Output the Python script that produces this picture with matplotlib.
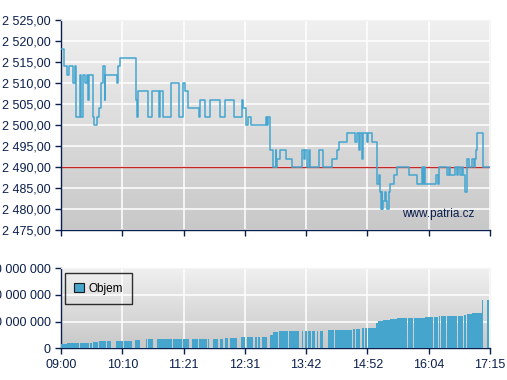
import numpy as np
import matplotlib
matplotlib.use("Agg")
import matplotlib.pyplot as plt
from matplotlib.patches import Rectangle

plt.rcParams['font.family'] = ['Liberation Sans', 'DejaVu Sans']

# minutes since 09:00 and price (step-post)
price_min = [0, 4, 7.5, 8.7, 14.2, 16.2, 17.7, 22.3, 23, 25.7, 27.7, 30.3, 31.5, 32.3,
             37.3, 38.4, 41.5, 43.8, 46.2, 48.5, 50.4, 50.8, 65, 65.8, 68.1, 86.2, 87.3,
             89.2, 100.4, 105.3, 113.4, 114.2, 118, 127.3, 135.6, 141.1, 142.7, 146.9,
             159.6, 160.4, 166.2, 171.9, 183.5, 189.2, 199.6, 208.5, 210.3, 213.5, 215.4,
             218.9, 237.1, 237.7, 238.3, 241.5, 244.6, 247.7, 248.4, 249.2, 252.3, 260,
             266.9, 278.4, 280.7, 281.9, 283.5, 286.5, 287.6, 298, 302.6, 313, 318.8,
             320.8, 330.3, 339.2, 341.2, 344.2, 345, 347.7, 348.5, 352.7, 354.6, 358.5,
             364.3, 365, 366.6, 368.1, 369.2, 370, 370.8, 371.9, 373.8, 375, 376.5,
             378.1, 379.6, 384.2, 388, 401.9, 410.4, 416.9, 418, 419, 420, 432.7, 435,
             436.5, 445.7, 447.3, 448.8, 455, 456.5, 458.4, 460.4, 462.7, 464.2, 466.2,
             468.1, 470.4, 473.9, 476.5, 477.7, 478.8, 480.4, 486.5, 495]
price_val = [2518, 2514, 2512, 2514, 2510, 2514, 2502, 2512, 2502, 2512, 2510, 2512, 2506, 2512,
             2502, 2500, 2502, 2504, 2510, 2514, 2506, 2512, 2510, 2514, 2516, 2506, 2502,
             2508, 2502, 2508, 2502, 2508, 2502, 2510, 2502, 2510, 2508, 2504,
             2502, 2506, 2502, 2506, 2502, 2506, 2502, 2506, 2504, 2500, 2502,
             2500, 2502, 2500, 2502, 2494, 2490, 2494, 2490, 2492, 2494, 2492,
             2490, 2494, 2492, 2494, 2490, 2494, 2490, 2494, 2490, 2492, 2494,
             2496, 2498, 2496, 2498, 2494, 2498, 2492, 2498, 2496, 2498, 2496,
             2490, 2486, 2488, 2484, 2480, 2484, 2480, 2482, 2484, 2482, 2480,
             2484, 2486, 2488, 2490, 2488, 2486, 2490, 2486, 2490, 2486, 2488, 2486,
             2490, 2488, 2490, 2488, 2490, 2488, 2490, 2488, 2490, 2488, 2484,
             2492, 2490, 2492, 2490, 2492, 2494, 2498, 2490, 2490]
ref_price = 2490

# cumulative volume bars: start/end minute, value in millions
vol_start = [0, 7.3, 21.9, 33.5, 36.6, 43.8, 52.7, 63.5, 72.7, 85.4, 97.7, 100, 110.4, 116.9,
             128.9, 141.1, 151.1, 159.6, 163, 170, 175, 183.5, 189.2, 195, 207.7, 214.3,
             223.8, 227.6, 231.6, 241.1, 245, 251.9, 261.1, 263, 277.7, 281.5, 285.3,
             289.3, 295, 298.8, 307.7, 316.1, 318.8, 337.3, 340, 347.3, 350.8, 353.9,
             363.5, 366.1, 371.9, 379.6, 387.3, 400.7, 407.6, 420, 430.4, 436.1, 438.4,
             445, 457.7, 465.3, 468.1, 474.6, 486.1, 491.2]
vol_end = [6.6, 20.4, 32.3, 35.8, 43, 51.9, 57.7, 71.9, 81.6, 91.2, 98.9, 105.8, 116.2, 127.7,
           139.3, 147.7, 158.4, 162.3, 168.1, 171.1, 181.5, 187.3, 193, 202.7, 212.3, 221.9,
           225.8, 229.6, 238, 245, 250.7, 260.4, 262.2, 275, 279.6, 283.5, 288.1,
           293.1, 296.9, 302.6, 315, 318.1, 335.4, 339.2, 345, 349.6, 352.7, 363.1,
           365.4, 371.9, 379.6, 387.3, 398.9, 406.5, 420, 428.9, 435.3, 437.3, 443.9,
           456.5, 464.2, 467.3, 473.9, 486.1, 487.3, 493.8]
vol_val = [15, 19, 19, 21, 24, 27, 27, 27, 27, 31, 35, 35, 35, 35,
           35, 35, 35, 35, 35, 35, 35, 35, 38, 38, 41, 41,
           42, 42, 42, 51, 60, 65, 65, 65, 65, 65, 65,
           65, 65, 65, 67, 68, 68, 72, 72, 77, 77, 77,
           94, 102, 106, 110, 113, 113, 113, 117, 117, 121, 121,
           121, 121, 125, 128, 133, 181, 183]

tick_labels = ['09:00', '10:10', '11:21', '12:31', '13:42', '14:52', '16:04', '17:15']
xticks = np.linspace(0, 495, len(tick_labels))

navy = '#0b1f4e'
blue = '#44a6d0'

fig = plt.figure(figsize=(5.07, 3.80), dpi=100)
ax1 = fig.add_axes([0.1203, 0.3947, 0.8462, 0.5526])
ax2 = fig.add_axes([0.1203, 0.0834, 0.8462, 0.2105])

grad = np.linspace(0, 1, 256).reshape(-1, 1)
bg = matplotlib.colors.LinearSegmentedColormap.from_list('bg', ['#f0f0f0', '#c8c8c8'])
for ax in (ax1, ax2):
    ax.imshow(grad, aspect='auto', cmap=bg, extent=[0, 1, 0, 1],
              transform=ax.transAxes, zorder=0)
    ax.set_xlim(0, 495)
    ax.set_xticks(xticks)
    ax.grid(True, color='white', linewidth=1.1, zorder=1)
    for s in ('top', 'right'):
        ax.spines[s].set_color('#f4f4f4')
    for s in ('left', 'bottom'):
        ax.spines[s].set_color(navy)
        ax.spines[s].set_linewidth(1.0)
    ax.tick_params(colors=navy, labelcolor=navy, labelsize=9, length=4, width=1)

# price chart
ax1.step(price_min, price_val, where='post', color=blue, linewidth=1.1, zorder=3)
ax1.axhline(ref_price, color='#c0282a', linewidth=1.0, zorder=2)
ax1.set_ylim(2475, 2525)
ax1.set_yticks(np.arange(2475, 2526, 5))
ax1.set_yticklabels(['2 %03d,00' % (v - 2000) for v in range(2475, 2526, 5)])
ax1.set_xticklabels([])
ax1.text(0.963, 0.075, 'www.patria.cz', transform=ax1.transAxes, ha='right', va='center',
         color=navy, fontsize=8.5, zorder=4)

# volume chart
vs = np.array(vol_start)
ve = np.array(vol_end)
ax2.bar(vs, np.array(vol_val) * 1e6, width=ve - vs, align='edge', color='#46a5cd',
        linewidth=0, zorder=3, label='Objem')
ax2.set_ylim(0, 300e6)
ax2.set_yticks([0, 100e6, 200e6, 300e6])
ax2.set_yticklabels(['0', '100 000 000', '200 000 000', '300 000 000'])
ax2.set_xticklabels(tick_labels)

handle = Rectangle((0, 0), 1, 1, facecolor='#46a5cd', edgecolor='#1a1a1a', linewidth=0.8)
leg = ax2.legend([handle], ['Objem'], loc='upper left', bbox_to_anchor=(0.009, 0.94),
                 fancybox=False, edgecolor='black', fontsize=8.5,
                 handlelength=0.8, handleheight=0.8, borderpad=0.8, handletextpad=0.4,
                 borderaxespad=0)
leg.get_frame().set_facecolor('none')
leg.get_frame().set_linewidth(1.0)
leg.set_zorder(5)

fig.savefig('out.png', dpi=100)
